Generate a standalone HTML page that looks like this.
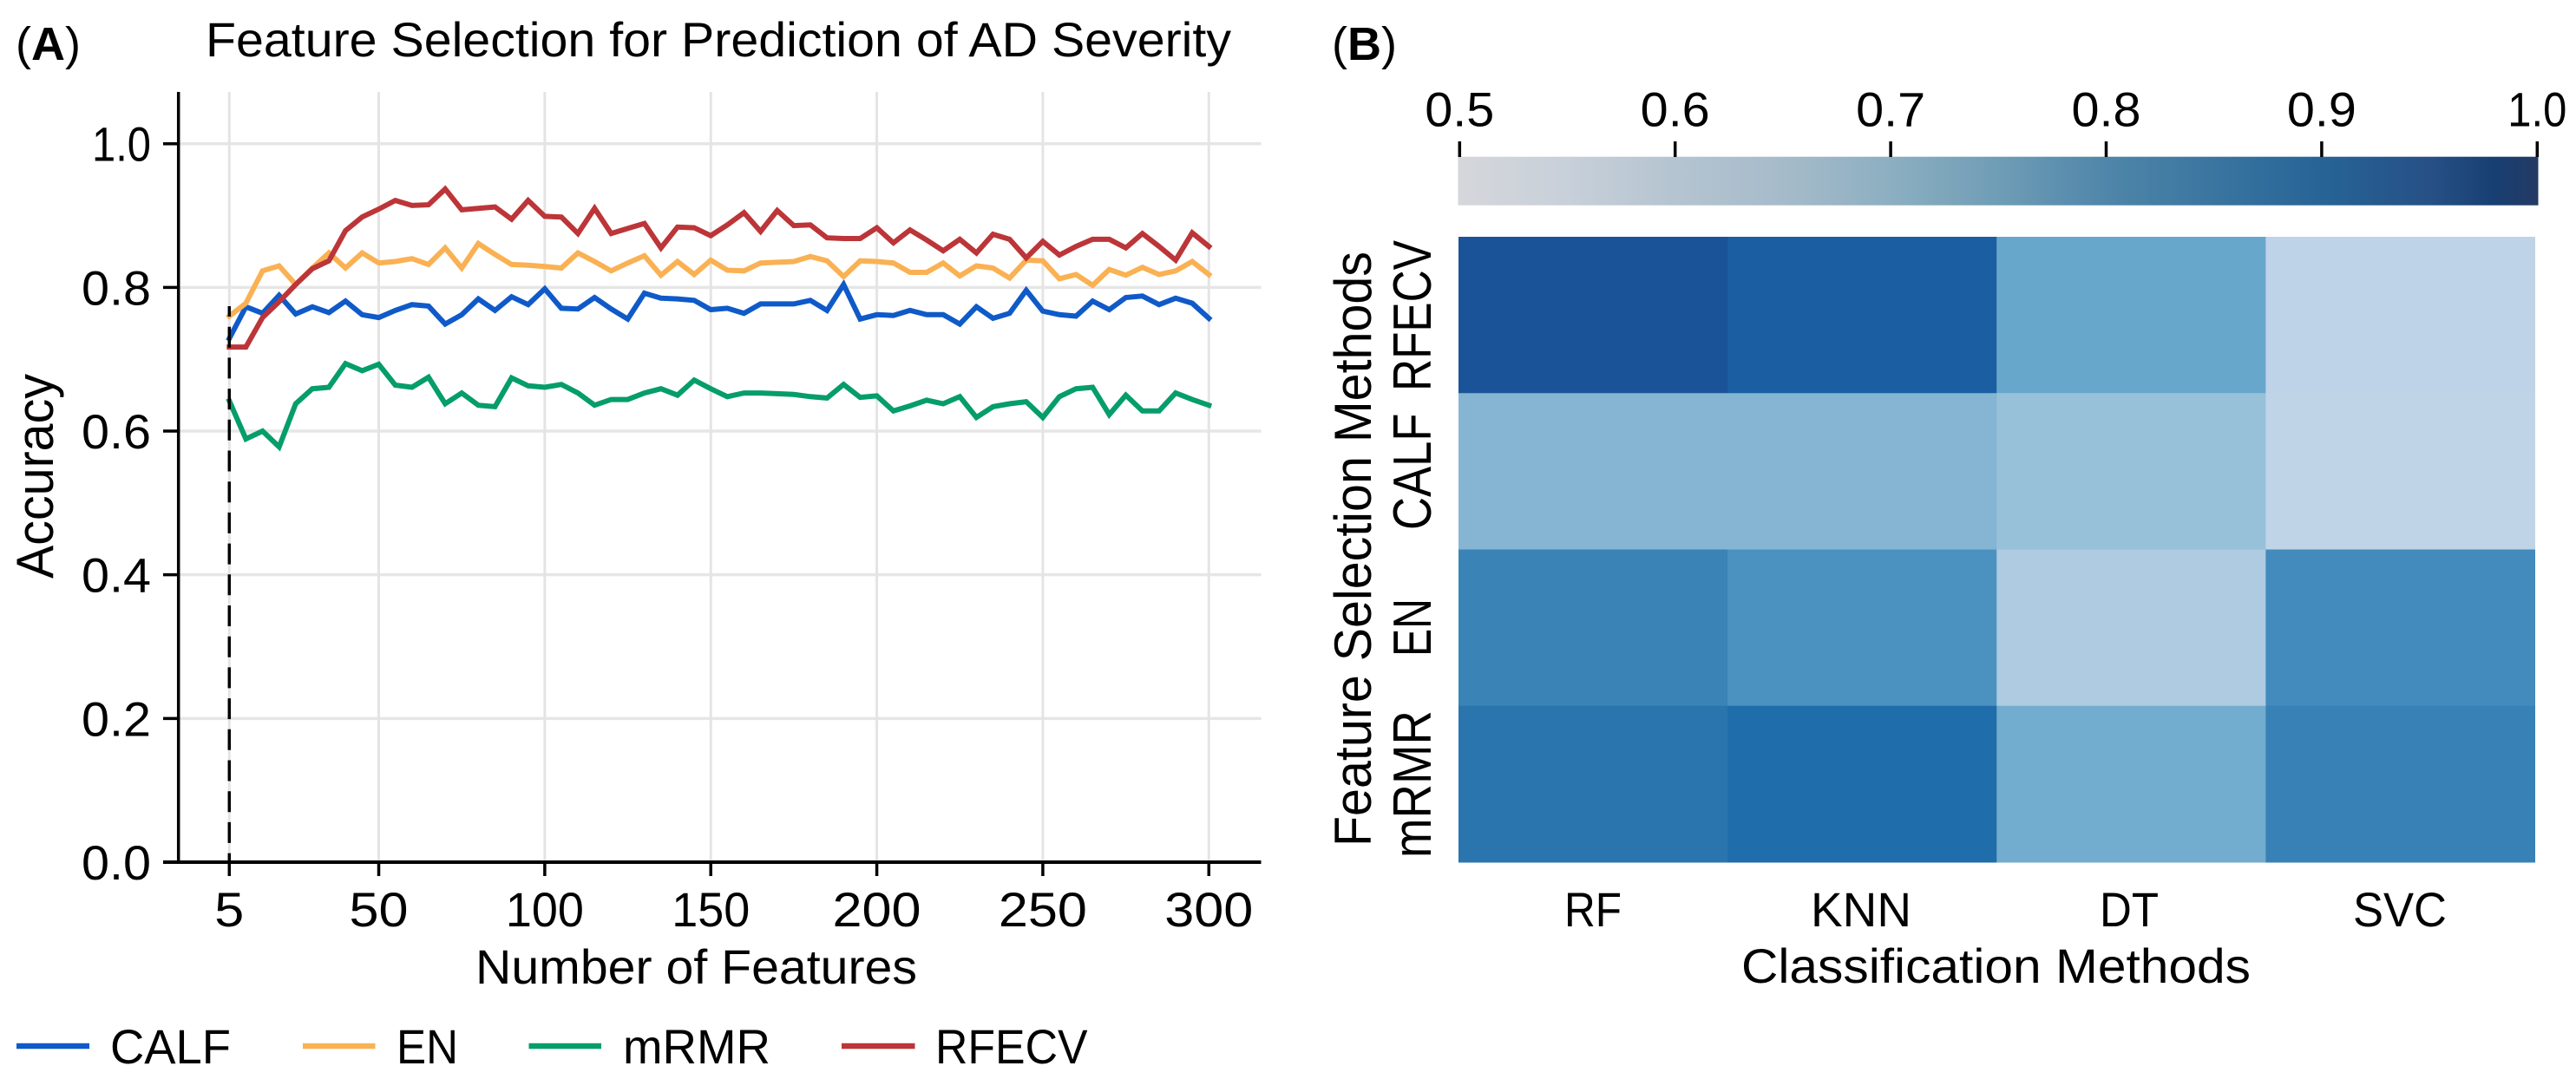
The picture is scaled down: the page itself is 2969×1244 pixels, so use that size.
<!DOCTYPE html>
<html lang="en">
<head>
<meta charset="utf-8">
<title>Feature Selection for Prediction of AD Severity</title>
<style>
html,body{margin:0;padding:0;background:#fff;}
svg{display:block;}
text{font-family:"Liberation Sans",sans-serif;fill:#000;}
</style>
</head>
<body>
<svg id="figure" xmlns="http://www.w3.org/2000/svg" width="2969" height="1244" viewBox="0 0 2969 1244">
  <defs>
    <linearGradient id="cbar-gradient" x1="0" y1="0" x2="1" y2="0">
      <stop offset="0" stop-color="#d5d7db"/>
      <stop offset="0.1" stop-color="#c8d0da"/>
      <stop offset="0.2" stop-color="#b5c4d1"/>
      <stop offset="0.3" stop-color="#a6bbca"/>
      <stop offset="0.4" stop-color="#8cafc1"/>
      <stop offset="0.5" stop-color="#6f9db6"/>
      <stop offset="0.6" stop-color="#4f86a9"/>
      <stop offset="0.7" stop-color="#3a75a0"/>
      <stop offset="0.8" stop-color="#276496"/>
      <stop offset="0.9" stop-color="#265086"/>
      <stop offset="0.96" stop-color="#183f72"/>
      <stop offset="1" stop-color="#243a63"/>
    </linearGradient>
  </defs>
  <text x="18" y="69" font-size="54">(<tspan font-weight="bold">A</tspan>)</text>
  <text x="1535" y="69" font-size="54">(<tspan font-weight="bold">B</tspan>)</text>
  <text x="237" y="65" font-size="56" textLength="1182" lengthAdjust="spacingAndGlyphs">Feature Selection for Prediction of AD Severity</text>
  <text transform="translate(61 667) rotate(-90)" font-size="60" textLength="236" lengthAdjust="spacingAndGlyphs">Accuracy</text>
  <text x="548" y="1134" font-size="56" textLength="509" lengthAdjust="spacingAndGlyphs">Number of Features</text>
  <g id="grid"></g>
  <g id="series"></g>
  <g id="axes"></g>
  <g id="legend">
    <g>
      <line x1="19" x2="103" y1="1206" y2="1206" stroke="#0f5ac8" stroke-width="6.5"/>
      <text x="127" y="1226" font-size="56" textLength="139" lengthAdjust="spacingAndGlyphs">CALF</text>
    </g>
    <g>
      <line x1="349" x2="432.5" y1="1206" y2="1206" stroke="#fab153" stroke-width="6.5"/>
      <text x="457" y="1226" font-size="56" textLength="71" lengthAdjust="spacingAndGlyphs">EN</text>
    </g>
    <g>
      <line x1="609.5" x2="693" y1="1206" y2="1206" stroke="#059d6b" stroke-width="6.5"/>
      <text x="718" y="1226" font-size="56" textLength="170" lengthAdjust="spacingAndGlyphs">mRMR</text>
    </g>
    <g>
      <line x1="970" x2="1054.5" y1="1206" y2="1206" stroke="#bc3538" stroke-width="6.5"/>
      <text x="1078" y="1226" font-size="56" textLength="175.5" lengthAdjust="spacingAndGlyphs">RFECV</text>
    </g>
  </g>
  <rect x="1680.5" y="180.7" width="1245" height="56" fill="url(#cbar-gradient)"/>
  <g id="colorbar-axis"></g>
  <g id="heatmap"></g>
  <g id="heatmap-labels">
    <text transform="translate(1649 451) rotate(-90)" font-size="62" textLength="174" lengthAdjust="spacingAndGlyphs">RFECV</text>
    <text transform="translate(1649 611) rotate(-90)" font-size="62" textLength="134.5" lengthAdjust="spacingAndGlyphs">CALF</text>
    <text transform="translate(1649 757) rotate(-90)" font-size="62" textLength="67" lengthAdjust="spacingAndGlyphs">EN</text>
    <text transform="translate(1649 989) rotate(-90)" font-size="62" textLength="170" lengthAdjust="spacingAndGlyphs">mRMR</text>
    <text transform="translate(1580 976) rotate(-90)" font-size="60" textLength="686" lengthAdjust="spacingAndGlyphs">Feature Selection Methods</text>
    <text x="1803" y="1068" font-size="56" textLength="66" lengthAdjust="spacingAndGlyphs">RF</text>
    <text x="2087" y="1068" font-size="56" textLength="116" lengthAdjust="spacingAndGlyphs">KNN</text>
    <text x="2420" y="1068" font-size="56" textLength="68" lengthAdjust="spacingAndGlyphs">DT</text>
    <text x="2712" y="1068" font-size="56" textLength="108" lengthAdjust="spacingAndGlyphs">SVC</text>
    <text x="2007" y="1133" font-size="56" textLength="587" lengthAdjust="spacingAndGlyphs">Classification Methods</text>
  </g>
</svg>
<script>
const featureCounts = [5,10,15,20,25,30,35,40,45,50,55,60,65,70,75,80,85,90,95,100,105,110,115,120,125,130,135,140,145,150,155,160,165,170,175,180,185,190,195,200,205,210,215,220,225,230,235,240,245,250,255,260,265,270,275,280,285,290,295,300];
const calfValues = [.729,.773,.764,.789,.763,.773,.765,.781,.762,.758,.768,.776,.774,.749,.762,.784,.768,.787,.776,.798,.771,.770,.786,.770,.756,.792,.785,.784,.782,.769,.771,.764,.777,.777,.777,.782,.768,.804,.756,.762,.761,.768,.762,.762,.749,.773,.757,.764,.796,.767,.762,.760,.781,.769,.786,.788,.776,.785,.778,.757];
const enValues = [.760,.778,.823,.830,.804,.827,.848,.827,.848,.834,.836,.840,.832,.855,.827,.861,.846,.832,.831,.829,.827,.848,.836,.823,.834,.844,.817,.836,.818,.838,.824,.823,.834,.835,.836,.843,.837,.815,.837,.836,.834,.821,.821,.834,.816,.830,.827,.813,.838,.837,.812,.818,.803,.825,.817,.828,.818,.823,.836,.818];
const mrmrValues = [.642,.589,.600,.578,.638,.659,.661,.694,.684,.693,.664,.661,.675,.638,.653,.636,.634,.674,.663,.661,.665,.653,.636,.644,.644,.653,.659,.650,.671,.659,.648,.653,.653,.652,.651,.648,.646,.665,.647,.649,.628,.635,.643,.638,.648,.619,.634,.638,.641,.619,.648,.659,.661,.623,.650,.628,.628,.653,.644,.636];
const rfecvValues = [.717,.717,.758,.780,.804,.826,.837,.879,.898,.909,.921,.914,.915,.937,.908,.910,.912,.895,.921,.899,.898,.875,.910,.875,.882,.889,.855,.884,.883,.872,.887,.904,.878,.907,.886,.887,.869,.868,.868,.883,.862,.880,.866,.851,.867,.848,.874,.867,.841,.864,.845,.857,.867,.867,.855,.875,.857,.838,.876,.857];
const xTickValues = [5,50,100,150,200,250,300];
const xTickLabels = ['5','50','100','150','200','250','300'];
const yTickValues = [0,0.2,0.4,0.6,0.8,1.0];
const yTickLabels = ['0.0','0.2','0.4','0.6','0.8','1.0'];
const colorbarTickValues = [0.5,0.6,0.7,0.8,0.9,1.0];
const colorbarTickLabels = ['0.5','0.6','0.7','0.8','0.9','1.0'];
const heatmapColumns = ['RF','KNN','DT','SVC'];
const heatmapRows = ['RFECV','CALF','EN','mRMR'];
const heatRfecv = [.96,.93,.75,.605];
const heatCalf = [.72,.72,.69,.60];
const heatEn = [.83,.80,.65,.815];
const heatMrmr = [.87,.90,.74,.835];
const colorStopValues = [.60,.65,.69,.72,.75,.80,.83,.87,.90,.93,.96];
const colorStopColors = ['#c0d4e8','#aecbe1','#97c1d9','#85b5d3','#68a7cc','#4b92c0','#3a83b7','#2a75ae','#206dab','#1b5fa2','#1a5398'];

const NS = 'http://www.w3.org/2000/svg';
const xScale = v => 264.3 + (v - 5) * 3.827;
const yScale = v => 994 - v * 828.3;
const colorbarScale = v => 1682.3 + (v - 0.5) * 2484;
const charWidth = c => c === '1' ? 22 : c === '.' ? 12 : 34;
const labelWidth = s => Array.from(s).reduce((a, c) => a + charWidth(c), 0);

function make(tag, parent, props) {
  const el = document.createElementNS(NS, tag);
  for (const k in props) el.setAttribute(k, props[k]);
  parent.appendChild(el);
  return el;
}
function hexToRgb(h) {
  return [parseInt(h.slice(1,3),16), parseInt(h.slice(3,5),16), parseInt(h.slice(5,7),16)];
}
function heatColor(v) {
  const n = colorStopValues.length;
  if (v <= colorStopValues[0]) return colorStopColors[0];
  if (v >= colorStopValues[n-1]) return colorStopColors[n-1];
  for (let i = 1; i < n; i++) {
    if (v <= colorStopValues[i]) {
      const t = (v - colorStopValues[i-1]) / (colorStopValues[i] - colorStopValues[i-1]);
      const a = hexToRgb(colorStopColors[i-1]);
      const b = hexToRgb(colorStopColors[i]);
      return 'rgb(' + a.map((c, j) => Math.round(c + (b[j] - c) * t)).join(',') + ')';
    }
  }
}

const gridG = document.getElementById('grid');
const axesG = document.getElementById('axes');
const seriesG = document.getElementById('series');
const cbarG = document.getElementById('colorbar-axis');
const heatG = document.getElementById('heatmap');

yTickValues.forEach((v, i) => {
  if (v > 0) {
    const g = make('line', gridG, {x1:205, x2:1453.5, y1:yScale(v), y2:yScale(v), stroke:'#e6e6e6', 'stroke-width':3.5});
    
    
  }
  const tick = make('line', axesG, {x1:188, x2:205, y1:yScale(v), y2:yScale(v), stroke:'#000', 'stroke-width':3.5});
  
  
  const label = make('text', axesG, {x:174, y:yScale(v)+20, 'text-anchor':'end', 'font-size':56, textLength:labelWidth(yTickLabels[i]), lengthAdjust:'spacingAndGlyphs'});
  label.textContent = yTickLabels[i];
  
  
});
xTickValues.forEach((v, i) => {
  const g = make('line', gridG, {x1:xScale(v), x2:xScale(v), y1:106, y2:994, stroke:'#e4e4e4', 'stroke-width':3});
  
  
  const tick = make('line', axesG, {x1:xScale(v), x2:xScale(v), y1:994, y2:1010, stroke:'#000', 'stroke-width':3.5});
  
  
  const label = make('text', axesG, {x:xScale(v), y:1068, 'text-anchor':'middle', 'font-size':56, textLength:labelWidth(xTickLabels[i]), lengthAdjust:'spacingAndGlyphs'});
  label.textContent = xTickLabels[i];
  
  
});

const linePath = vals => vals.map((v, i) => (i ? 'L' : 'M') + xScale(featureCounts[i]).toFixed(1) + ' ' + yScale(v).toFixed(1)).join('');

const lineCalf = make('path', seriesG, {d:linePath(calfValues), fill:'none', stroke:'#0f5ac8', 'stroke-width':6, 'stroke-linecap':'square'});


const lineEn = make('path', seriesG, {d:linePath(enValues), fill:'none', stroke:'#fab153', 'stroke-width':6, 'stroke-linecap':'square'});


const lineMrmr = make('path', seriesG, {d:linePath(mrmrValues), fill:'none', stroke:'#059d6b', 'stroke-width':6, 'stroke-linecap':'square'});


const lineRfecv = make('path', seriesG, {d:linePath(rfecvValues), fill:'none', stroke:'#bc3538', 'stroke-width':6, 'stroke-linecap':'square'});



const dashed = make('line', axesG, {x1:xScale(5), x2:xScale(5), y1:353, y2:994, stroke:'#000', 'stroke-width':3.5, 'stroke-dasharray':'24 11.7', 'stroke-dashoffset':12});


const ySpine = make('line', axesG, {x1:205.7, x2:205.7, y1:106, y2:994, stroke:'#000', 'stroke-width':3.5});


const xSpine = make('line', axesG, {x1:188, x2:1453.5, y1:994, y2:994, stroke:'#000', 'stroke-width':4});



colorbarTickValues.forEach((v, i) => {
  const tick = make('line', cbarG, {x1:colorbarScale(v), x2:colorbarScale(v), y1:163, y2:181, stroke:'#000', 'stroke-width':3.5});
  
  
  const label = make('text', cbarG, {x:colorbarScale(v), y:145.5, 'text-anchor':'middle', 'font-size':56, textLength:labelWidth(colorbarTickLabels[i]), lengthAdjust:'spacingAndGlyphs'});
  label.textContent = colorbarTickLabels[i];
  
  
});

const heatLeft = 1681, heatTop = 273, heatWidth = 1240.5, heatHeight = 721;
const heatData = [heatRfecv, heatCalf, heatEn, heatMrmr];
heatData.forEach((row, r) => {
  row.forEach((v, c) => {
    const cw = heatWidth / heatmapColumns.length;
    const ch = heatHeight / heatmapRows.length;
    const cell = make('rect', heatG, {x:heatLeft + c * cw, y:heatTop + r * ch, width:cw + 0.5, height:ch + 0.5, fill:heatColor(v)});
    
    
  });
});
</script>
</body>
</html>
